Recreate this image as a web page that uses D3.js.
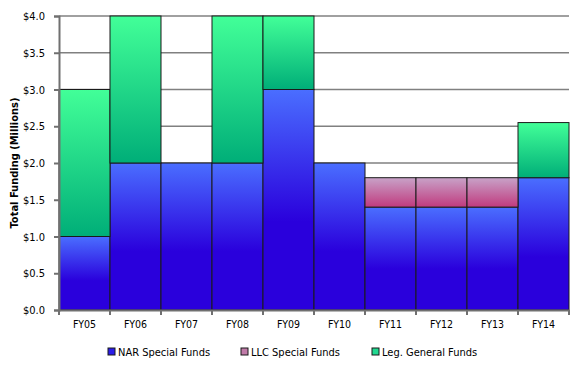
<!DOCTYPE html>
<html>
<head>
<meta charset="utf-8">
<script src="https://cdn.jsdelivr.net/npm/d3@7"></script>
<style>
  body { margin: 0; background: #fff; }
  text { font-family: "DejaVu Sans Condensed", "DejaVu Sans", sans-serif; fill: #000; }
</style>
</head>
<body>
<div id="chart"></div>
<script>
var years = ["FY05", "FY06", "FY07", "FY08", "FY09", "FY10", "FY11", "FY12", "FY13", "FY14"];
var narFunds = [1.0, 2.0, 2.0, 2.0, 3.0, 2.0, 1.4, 1.4, 1.4, 1.8];
var llcFunds = [0, 0, 0, 0, 0, 0, 0.4, 0.4, 0.4, 0];
var legFunds = [2.0, 2.0, 0, 2.0, 1.0, 0, 0, 0, 0, 0.75];
var seriesNames = ["NAR Special Funds", "LLC Special Funds", "Leg. General Funds"];
var yTicks = [0, 0.5, 1.0, 1.5, 2.0, 2.5, 3.0, 3.5, 4.0];

var width = 576, height = 365;
var margin = { top: 16, right: 7, bottom: 55, left: 59 };

var svg = d3.select("#chart")
    .append("svg")
    .attr("width", width)
    .attr("height", height);

// gradients, one per series
var defs = svg.append("defs");
var grads = [
    { id: "g-nar", stops: [[0, "#4a6eff"], [0.6, "#2a00dc"], [1, "#2a00dc"]] },
    { id: "g-llc", stops: [[0, "#c8a2c8"], [1, "#c03a7e"]] },
    { id: "g-leg", stops: [[0, "#42ff98"], [1, "#00ae78"]] }
];
grads.forEach(function (g) {
    var lg = defs.append("linearGradient")
        .attr("id", g.id)
        .attr("x1", 0).attr("y1", 0)
        .attr("x2", 0).attr("y2", 1);
    g.stops.forEach(function (s) {
        lg.append("stop").attr("offset", s[0]).attr("stop-color", s[1]);
    });
});

var x = d3.scaleBand()
    .domain(years)
    .range([margin.left, width - margin.right])
    .padding(0);

var y = d3.scaleLinear()
    .domain([0, 4])
    .range([height - margin.bottom, margin.top]);

// grid lines
svg.append("g")
    .selectAll("line")
    .data(yTicks.slice(1))
    .enter()
    .append("line")
    .attr("x1", margin.left)
    .attr("x2", width - margin.right)
    .attr("y1", function (d) { return y(d); })
    .attr("y2", function (d) { return y(d); })
    .attr("stroke", "#808080")
    .attr("stroke-width", 1.5);

// stacked bars
var rows = years.map(function (yr, i) {
    return { year: yr, nar: narFunds[i], llc: llcFunds[i], leg: legFunds[i] };
});
var stack = d3.stack().keys(["nar", "llc", "leg"]);
var layers = stack(rows);
var fills = ["url(#g-nar)", "url(#g-llc)", "url(#g-leg)"];

svg.append("g")
    .selectAll("g")
    .data(layers)
    .enter()
    .append("g")
    .attr("fill", function (d, i) { return fills[i]; })
    .selectAll("rect")
    .data(function (d) { return d.filter(function (p) { return p[1] - p[0] > 0; }); })
    .enter()
    .append("rect")
    .attr("x", function (d) { return x(d.data.year); })
    .attr("y", function (d) { return y(d[1]); })
    .attr("width", x.bandwidth())
    .attr("height", function (d) { return y(d[0]) - y(d[1]); })
    .attr("stroke", "#1a1a1a")
    .attr("stroke-width", 1);

// y axis
var yAxis = svg.append("g")
    .attr("transform", "translate(" + margin.left + ",0)")
    .call(d3.axisLeft(y)
        .tickValues(yTicks)
        .tickSize(5)
        .tickPadding(9)
        .tickFormat(function (d) { return "$" + d.toFixed(1); }));
yAxis.select(".domain").attr("stroke", "#707070").attr("stroke-width", 2);
yAxis.selectAll(".tick line").attr("stroke", "#707070").attr("stroke-width", 2);
yAxis.selectAll(".tick text")
    .style("font-size", "11px")
    .attr("x", -14);

// x axis
var xAxis = svg.append("g")
    .attr("transform", "translate(0," + (height - margin.bottom) + ")")
    .call(d3.axisBottom(x).tickSize(0).tickPadding(11));
xAxis.select(".domain").attr("stroke", "#707070").attr("stroke-width", 2);
xAxis.selectAll(".tick text").style("font-size", "10.5px");

// category boundary ticks
svg.append("g")
    .selectAll("line")
    .data(years.concat(["end"]))
    .enter()
    .append("line")
    .attr("x1", function (d, i) { return margin.left + i * x.bandwidth(); })
    .attr("x2", function (d, i) { return margin.left + i * x.bandwidth(); })
    .attr("y1", height - margin.bottom)
    .attr("y2", height - margin.bottom + 5)
    .attr("stroke", "#707070")
    .attr("stroke-width", 2);

// y axis title
svg.append("text")
    .attr("transform", "translate(14," + ((margin.top + height - margin.bottom) / 2) + ") rotate(-90)")
    .attr("text-anchor", "middle")
    .attr("dy", "0.35em")
    .style("font-size", "11px")
    .style("font-weight", "bold")
    .text("Total Funding (Millions)");

// legend
var legendX = [108, 241, 372];
var legendFills = ["#2a1ce8", "#c07aa8", "#20d890"];
var legend = svg.append("g")
    .selectAll("g")
    .data(seriesNames)
    .enter()
    .append("g")
    .attr("transform", function (d, i) { return "translate(" + legendX[i] + ",348)"; });
legend.append("rect")
    .attr("width", 7)
    .attr("height", 7)
    .attr("fill", function (d, i) { return legendFills[i]; })
    .attr("stroke", "#1a1a1a")
    .attr("stroke-width", 1);
legend.append("text")
    .attr("x", 10)
    .attr("y", 4)
    .attr("dy", "0.35em")
    .style("font-size", "11px")
    .text(function (d) { return d; });
</script>
</body>
</html>
